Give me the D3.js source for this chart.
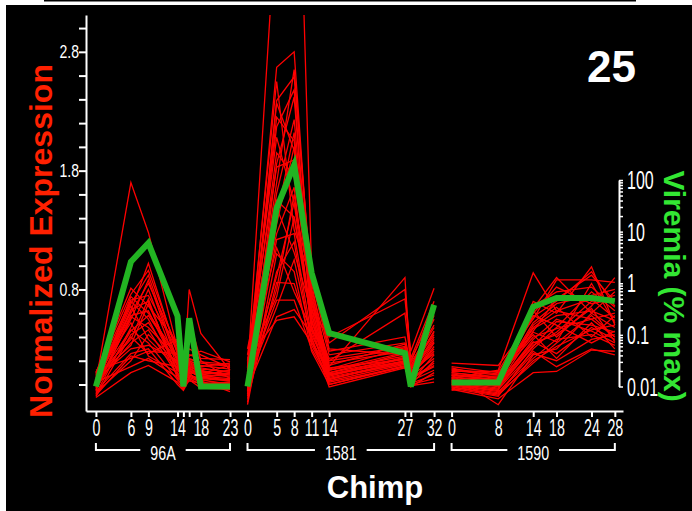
<!DOCTYPE html>
<html>
<head>
<meta charset="utf-8">
<script src="https://cdn.jsdelivr.net/npm/d3@7"></script>
<style>
  body { margin: 0; background: #fff; }
  svg { display: block; }
  text { font-family: "Liberation Sans", Arial, sans-serif; }
</style>
</head>
<body>
<svg id="chart" width="692" height="511"></svg>
<script>
// sampling days per chimp
const days96A  = [0, 6, 9, 14, 15, 16, 18, 23];
const days1581 = [0, 5, 8, 11, 14, 27, 28, 32];
const days1590 = [0, 8, 14, 18, 24, 28];

// days that get a tick but no label
const unlabeled96A  = [15, 16];
const unlabeled1581 = [28];
const unlabeled1590 = [];

// viremia (% max) - green line, right axis
const viremia96A  = [0.01, 2.6, 6.0, 0.23, 0.01, 0.21, 0.01, 0.01];
const viremia1581 = [0.01, 28.6, 195, 1.58, 0.108, 0.044, 0.01, 0.38];
const viremia1590 = [0.012, 0.012, 0.35, 0.52, 0.52, 0.45];

// normalized expression, one row per gene - red lines, left axis
const expr96A = [
  [0.02, 1.70, 1.28, 0.30, 0.05, 0.80, 0.43, 0.12],
  [-0.05, 0.62, 1.02, 0.25, 0.02, 0.15, 0.10, 0.08],
  [0.05, 0.68, 0.92, 0.20, 0.00, 0.55, 0.20, 0.05],
  [-0.02, 0.55, 0.88, 0.18, 0.08, 0.12, 0.05, 0.10],
  [0.08, 0.71, 0.75, 0.28, 0.12, 0.20, 0.15, 0.18],
  [0.00, 0.63, 0.70, 0.10, -0.02, 0.10, 0.00, 0.02],
  [-0.08, 0.48, 0.80, 0.15, 0.04, 0.18, 0.12, 0.06],
  [0.10, 0.81, 0.66, 0.35, 0.20, 0.25, 0.22, 0.21],
  [0.03, 0.58, 0.62, 0.12, 0.06, 0.08, 0.04, 0.00],
  [-0.04, 0.45, 0.58, 0.22, 0.10, 0.14, 0.08, 0.12],
  [0.06, 0.38, 0.72, 0.05, -0.03, 0.06, 0.02, -0.02],
  [-0.10, 0.42, 0.52, 0.16, 0.00, 0.22, 0.18, 0.15],
  [0.01, 0.35, 0.46, 0.08, 0.03, 0.12, 0.06, 0.04],
  [0.04, 0.30, 0.33, 0.20, 0.15, 0.16, 0.10, 0.09],
  [-0.06, 0.26, 0.30, 0.00, -0.05, 0.04, -0.03, -0.04],
  [0.12, 0.22, 0.28, 0.26, 0.18, 0.30, 0.25, 0.14],
  [0.00, 0.66, 0.38, 0.14, 0.05, 0.10, 0.08, 0.07],
  [-0.03, 0.74, 0.60, 0.24, 0.10, 0.19, 0.13, 0.11],
  [0.07, 0.52, 0.24, 0.10, 0.02, 0.08, 0.05, 0.03],
  [-0.07, 0.20, 0.42, 0.18, 0.07, 0.13, 0.09, 0.16],
  [0.02, 0.15, 0.22, 0.06, 0.01, 0.05, 0.00, 0.01],
  [0.09, 0.60, 0.85, 0.32, 0.14, 0.24, 0.28, 0.19],
  [-0.11, 0.10, 0.16, 0.02, -0.04, 0.07, 0.03, -0.06],
  [0.04, 0.40, 0.26, 0.38, 0.27, 0.20, 0.16, 0.13],
  [-0.01, 0.70, 0.55, 0.08, 0.00, 0.11, 0.07, 0.05],
  [0.06, 0.33, 0.68, 0.12, 0.09, 0.17, 0.11, 0.09],
  [-0.05, 0.57, 0.48, 0.22, 0.06, 0.09, 0.14, 0.10],
  [0.03, 0.46, 0.35, 0.04, -0.01, 0.03, 0.01, 0.02],
  [0.10, 0.76, 0.96, 0.28, 0.16, 0.21, 0.19, 0.17],
  [-0.09, 0.24, 0.20, 0.15, 0.03, 0.14, 0.06, 0.03]
];

const expr1581 = [
  [0.10, 4.00, 5.90, 0.95, 0.30, 0.25, 0.10, 0.40],
  [0.05, 2.67, 2.80, 0.70, 0.20, 0.30, 0.15, 0.55],
  [-0.05, 2.39, 2.59, 0.85, 0.10, 0.22, 0.05, 0.35],
  [0.15, 2.17, 2.48, 0.60, 0.05, 0.18, 0.08, 0.30],
  [0.00, 2.37, 1.97, 0.75, 0.15, 0.90, 0.12, 0.45],
  [-0.10, 1.86, 2.42, 0.55, 0.02, 0.15, 0.00, 0.20],
  [0.20, 2.08, 1.53, 0.80, 0.25, 0.35, 0.20, 0.62],
  [0.08, 1.61, 2.23, 0.65, 0.08, 0.20, 0.02, 0.25],
  [-0.15, 1.41, 2.12, 0.50, 0.00, 0.16, -0.02, 0.10],
  [0.25, 1.83, 1.89, 0.90, 0.35, 0.80, 0.22, 0.70],
  [0.02, 1.55, 1.41, 0.58, 0.12, 0.24, 0.06, 0.32],
  [0.12, 1.27, 1.66, 0.45, 0.06, 0.19, 0.04, 0.18],
  [-0.08, 1.22, 1.27, 0.40, -0.02, 0.14, 0.01, 0.08],
  [0.30, 1.49, 1.11, 0.62, 0.40, 0.72, 0.28, 0.81],
  [0.04, 0.91, 1.53, 0.48, 0.18, 0.28, 0.10, 0.38],
  [-0.12, 0.86, 0.85, 0.36, 0.03, 0.17, 0.00, 0.05],
  [0.18, 0.74, 1.41, 0.52, 0.22, 0.32, 0.18, 0.50],
  [0.06, 0.71, 0.71, 0.30, 0.04, 0.20, 0.05, 0.15],
  [-0.03, 0.57, 0.63, 0.42, 0.10, 0.26, 0.08, 0.28],
  [0.22, 0.54, 0.57, 0.35, 0.14, 0.21, 0.14, 0.42],
  [-0.17, 1.10, 0.95, 0.28, 0.00, 0.15, -0.01, 0.02],
  [0.10, 1.95, 1.75, 0.68, 0.16, 0.34, 0.12, 0.58],
  [0.01, 1.35, 2.00, 0.72, 0.08, 0.23, 0.07, 0.22],
  [0.14, 2.55, 1.30, 0.88, 0.28, 0.40, 0.16, 0.48],
  [-0.06, 0.95, 1.20, 0.33, 0.05, 0.18, 0.03, 0.12],
  [0.08, 1.70, 2.65, 0.78, 0.12, 0.27, 0.09, 0.36],
  [0.03, 0.65, 1.05, 0.38, 0.07, 0.22, 0.11, 0.26],
  [0.16, 1.15, 0.78, 0.46, 0.20, 0.60, 0.19, 0.66],
  [-0.01, 0.80, 1.60, 0.54, 0.09, 0.19, 0.06, 0.16],
  [0.07, 2.25, 2.05, 0.63, 0.13, 0.31, 0.13, 0.44]
];

const expr1590 = [
  [0.05, 0.12, 0.94, 0.62, 0.55, 0.40],
  [0.18, 0.16, 0.55, 0.88, 0.88, 0.86],
  [0.00, -0.05, 0.70, 0.60, 0.99, 0.50],
  [0.10, 0.05, 0.45, 0.72, 0.92, 0.70],
  [-0.03, -0.10, 0.30, 0.48, 0.78, 0.62],
  [0.12, 0.08, 0.62, 0.40, 0.66, 0.90],
  [0.02, 0.00, 0.38, 0.55, 0.45, 0.35],
  [0.08, -0.17, 0.25, 0.30, 0.60, 0.48],
  [-0.05, 0.02, 0.50, 0.65, 0.40, 0.58],
  [0.15, 0.10, 0.42, 0.22, 0.52, 0.30],
  [0.04, -0.02, 0.33, 0.44, 0.70, 0.75],
  [0.06, 0.04, 0.58, 0.50, 0.35, 0.45],
  [-0.02, -0.08, 0.18, 0.35, 0.58, 0.40],
  [0.10, 0.06, 0.66, 0.78, 0.82, 0.65],
  [0.01, -0.04, 0.28, 0.15, 0.30, 0.25],
  [0.13, 0.09, 0.47, 0.58, 0.62, 0.54],
  [0.03, 0.01, 0.36, 0.26, 0.48, 0.38],
  [-0.04, -0.12, 0.10, 0.11, 0.29, 0.28],
  [0.09, 0.03, 0.52, 0.68, 0.75, 0.80],
  [0.07, 0.07, 0.40, 0.47, 0.55, 0.60],
  [0.00, -0.06, 0.22, 0.38, 0.42, 0.33],
  [0.11, 0.11, 0.60, 0.82, 0.68, 0.72],
  [0.05, 0.00, 0.44, 0.36, 0.85, 0.52],
  [0.02, -0.03, 0.32, 0.53, 0.50, 0.44],
  [0.14, 0.05, 0.57, 0.70, 0.95, 0.66],
  [-0.01, -0.07, 0.26, 0.20, 0.38, 0.42],
  [0.06, 0.02, 0.48, 0.62, 0.72, 0.56],
  [0.03, -0.01, 0.35, 0.42, 0.64, 0.36],
  [0.08, 0.04, 0.64, 0.90, 0.60, 0.78],
  [-0.02, -0.09, 0.20, 0.32, 0.46, 0.50]
];

// axis ticks / labels
const leftTicks  = [0, 0.2, 0.4, 0.6, 0.8, 1, 1.2, 1.4, 1.6, 1.8, 2, 2.2, 2.4, 2.6, 2.8, 3];
const leftLabels = [0.8, 1.8, 2.8];
const rightLabels = [0.01, 0.1, 1, 10, 100];

const colors = {
  gene: "#ff0000",
  viremia: "#22b422",
  leftTitle: "#ff2000",
  rightTitle: "#33e633"
};

const svg = d3.select("#chart");
const W = 692, H = 511;

// black slide background + thin top rule
svg.append("rect").attr("x", 6).attr("y", 5).attr("width", W - 6).attr("height", H - 5).attr("fill", "#000");
svg.append("rect").attr("x", 44).attr("y", 0).attr("width", 592).attr("height", 1.5).attr("fill", "#000");

// one shared day axis, each chimp shifted along it
const groups = [
  { name: "96A",  start: 0,  days: days96A,  hide: unlabeled96A,  expr: expr96A,  vir: viremia96A },
  { name: "1581", start: 26, days: days1581, hide: unlabeled1581, expr: expr1581, vir: viremia1581 },
  { name: "1590", start: 61, days: days1590, hide: unlabeled1590, expr: expr1590, vir: viremia1590 }
];

const x  = d3.scaleLinear().domain([-1.7, 90.4]).range([86, 623]);
const yL = d3.scaleLinear().domain([-0.223, 3.11]).range([411, 15]);
const yR = d3.scaleLog().domain([0.01, 100]).range([386.5, 180]);

// -------------------------------
// lines
// -------------------------------
svg.append("clipPath").attr("id", "plotclip")
  .append("rect").attr("x", 86).attr("y", 15).attr("width", 540).attr("height", 396);
const plot = svg.append("g").attr("clip-path", "url(#plotclip)");

groups.forEach(g => {
  const geneLine = d3.line()
    .x((v, i) => x(g.start + g.days[i]))
    .y(v => yL(v));
  plot.append("g").selectAll("path")
    .data(g.expr)
    .join("path")
    .attr("d", geneLine)
    .attr("fill", "none")
    .attr("stroke", colors.gene)
    .attr("stroke-width", 1.3);
});

groups.forEach(g => {
  const virLine = d3.line()
    .x((v, i) => x(g.start + g.days[i]))
    .y(v => yR(v));
  plot.append("path")
    .datum(g.vir)
    .attr("d", virLine)
    .attr("fill", "none")
    .attr("stroke", colors.viremia)
    .attr("stroke-width", 6);
});

// -------------------------------
// axes
// -------------------------------
function styleAxis(ax) {
  ax.select(".domain").attr("stroke", "#fff").attr("stroke-width", 2);
  ax.selectAll(".tick line").attr("stroke", "#fff").attr("stroke-width", 2);
  ax.selectAll(".tick text").attr("fill", "#fff");
}

const tickVals = groups.flatMap(g => g.days.map(d => g.start + d));
const labelOf = new Map();
groups.forEach(g => g.days.forEach(d => labelOf.set(g.start + d, g.hide.includes(d) ? "" : String(d))));

const xAxis = svg.append("g")
  .attr("transform", "translate(0,411)")
  .call(d3.axisBottom(x).tickValues(tickVals).tickFormat(v => labelOf.get(v)).tickSize(6).tickSizeOuter(0).tickPadding(3));
styleAxis(xAxis);
xAxis.selectAll(".tick text")
  .attr("font-size", 23)
  .attr("transform", "scale(0.62,1)");

const yAxisL = svg.append("g")
  .attr("transform", "translate(86,0)")
  .call(d3.axisLeft(yL).tickValues(leftTicks).tickFormat(v => leftLabels.includes(v) ? v.toFixed(1) : "").tickSize(7).tickSizeOuter(0));
styleAxis(yAxisL);
yAxisL.selectAll(".tick text")
  .attr("font-size", 19)
  .attr("x", -7 / 0.74)
  .attr("transform", "scale(0.74,1)");

const yAxisR = svg.append("g")
  .attr("transform", "translate(619,0)")
  .call(d3.axisRight(yR).tickValues(yR.ticks()).tickFormat(() => "").tickSize(4).tickSizeOuter(0));
styleAxis(yAxisR);
yAxisR.selectAll(".tick line").attr("stroke-width", 1.5);

svg.append("g").selectAll("text")
  .data(rightLabels)
  .join("text")
  .attr("transform", d => `translate(627,${yR(d)}) scale(0.64,1)`)
  .attr("dy", "0.36em")
  .attr("fill", "#fff")
  .attr("font-size", 25)
  .text(d => String(d));

// -------------------------------
// chimp brackets under the day axis
// -------------------------------
groups.forEach(g => {
  const x1 = x(g.start + g.days[0]);
  const x2 = x(g.start + g.days[g.days.length - 1]);
  const mid = (x1 + x2) / 2;
  const lab = svg.append("text")
    .attr("transform", `translate(${mid},460) scale(0.68,1)`)
    .attr("text-anchor", "middle")
    .attr("fill", "#fff")
    .attr("font-size", 21)
    .text(g.name);
  const half = lab.node().getComputedTextLength() * 0.68 / 2 + 10;
  svg.append("path")
    .attr("d", `M${x1},443V450H${mid - half}M${mid + half},450H${x2}V443`)
    .attr("fill", "none")
    .attr("stroke", "#fff")
    .attr("stroke-width", 2);
});

// -------------------------------
// titles
// -------------------------------
svg.append("text")
  .attr("x", 375).attr("y", 498)
  .attr("text-anchor", "middle")
  .attr("fill", "#fff")
  .attr("font-size", 31)
  .attr("font-weight", "bold")
  .text("Chimp");

svg.append("text")
  .attr("transform", "translate(52,241) rotate(-90)")
  .attr("text-anchor", "middle")
  .attr("fill", colors.leftTitle)
  .attr("font-size", 32)
  .attr("font-weight", "bold")
  .text("Normalized Expression");

svg.append("text")
  .attr("transform", "translate(664,286) rotate(90)")
  .attr("text-anchor", "middle")
  .attr("fill", colors.rightTitle)
  .attr("font-size", 30)
  .attr("font-weight", "bold")
  .text("Viremia (% max)");

svg.append("text")
  .attr("x", 636).attr("y", 82)
  .attr("text-anchor", "end")
  .attr("fill", "#fff")
  .attr("font-size", 44)
  .attr("font-weight", "bold")
  .text("25");
</script>
</body>
</html>
